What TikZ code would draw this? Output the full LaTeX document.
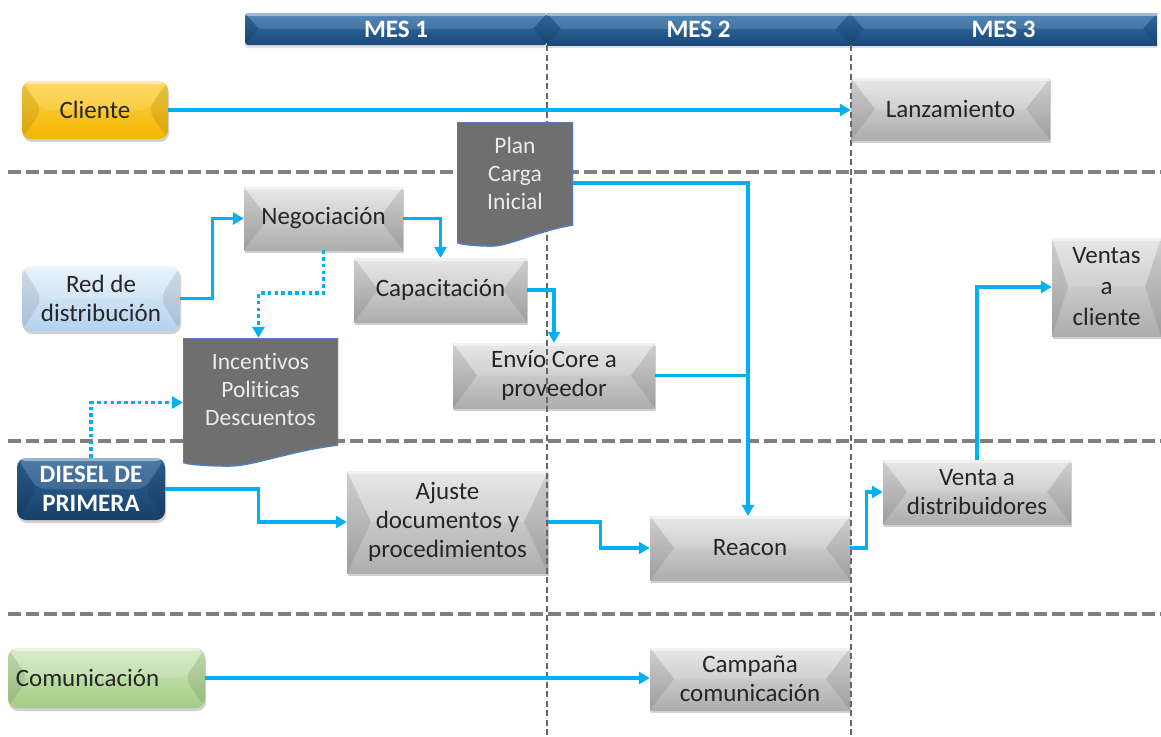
\documentclass[tikz,border=0pt]{standalone}
\usepackage{fontspec}
\setmainfont{Carlito}[Ligatures=NoCommon]
\usetikzlibrary{arrows.meta,shadows,calc}

\definecolor{flow}{HTML}{00B0F0}
\definecolor{lanegray}{HTML}{7F7F7F}
\definecolor{boxtop}{HTML}{E4E4E4}
\definecolor{boxbot}{HTML}{ADADAD}
\definecolor{docfill}{HTML}{6F6F6F}
\definecolor{docedge}{HTML}{4F7FB5}
\definecolor{hdrtop}{HTML}{3572AE}
\definecolor{hdrbot}{HTML}{1B4A78}
\definecolor{goldtop}{HTML}{FFD54F}
\definecolor{goldbot}{HTML}{F2B500}
\definecolor{skytop}{HTML}{E6F1FB}
\definecolor{skybot}{HTML}{B4D2EE}
\definecolor{navytop}{HTML}{2F6499}
\definecolor{navybot}{HTML}{17406A}
\definecolor{leaftop}{HTML}{D3E9C2}
\definecolor{leafbot}{HTML}{A3CE85}
\definecolor{ink}{HTML}{262626}

\newcommand\boxfont{\fontsize{25}{29}\selectfont}
\newcommand\docfont{\fontsize{23.5}{28}\selectfont}
\newcommand\hdrfont{\fontsize{25}{28}\selectfont\bfseries}

\tikzset{
  % bevelled faces painted inside a box: side triangles meet at mid height
  bevel/.style={path picture={
    \coordinate (bNW) at (path picture bounding box.north west);
    \coordinate (bNE) at (path picture bounding box.north east);
    \coordinate (bSW) at (path picture bounding box.south west);
    \coordinate (bSE) at (path picture bounding box.south east);
    \coordinate (bL) at ([xshift=#1]path picture bounding box.west);
    \coordinate (bR) at ([xshift=-#1]path picture bounding box.east);
    \fill[white,opacity=.14] (bNW) -- (bNE) -- (bR) -- (bL) -- cycle;
    \fill[black,opacity=.09] (bNW) -- (bL) -- (bSW) -- cycle;
    \fill[black,opacity=.09] (bNE) -- (bR) -- (bSE) -- cycle;
    \fill[white,opacity=.45] (bNW) -- (bNE) -- ([yshift=-3pt]bNE) -- ([yshift=-3pt]bNW) -- cycle;
  }},
  wh/.style 2 args={minimum width=#1pt, minimum height=#2pt},
  softshadow/.style={drop shadow={shadow xshift=1pt, shadow yshift=-3pt, opacity=.3, fill=black!60}},
  graybox/.style={rectangle, top color=boxtop, bottom color=boxbot, bevel=24pt,
    softshadow, text=ink, align=center, font=\boxfont, inner sep=0pt},
  rbox/.style={rectangle, rounded corners=9pt, bevel=20pt, softshadow,
    text=ink, align=center, font=\boxfont, inner sep=0pt},
  mesbar/.style={rectangle, top color=hdrtop, bottom color=hdrbot, bevel=14pt,
    minimum height=32pt, text=white, font=\hdrfont, inner sep=0pt,
    drop shadow={shadow xshift=0pt, shadow yshift=-3pt, opacity=.25}},
  % document sheet with a wavy lower edge; #1 = rise of the right end
  docbox/.style={rectangle, text=white!92!black, align=center, font=\docfont, inner sep=0pt,
    path picture={
      \coordinate (dNW) at (path picture bounding box.north west);
      \coordinate (dNE) at (path picture bounding box.north east);
      \coordinate (dSW) at (path picture bounding box.south west);
      \coordinate (dSE) at (path picture bounding box.south east);
      \fill[docfill, draw=docedge, line width=1.6pt]
        (dNW) -- (dNE) -- ([yshift=#1]dSE)
        .. controls ($(dSW)!.7!(dSE)+(0,.75*#1)$) and ($(dSW)!.45!(dSE)+(0,1pt)$) .. ($(dSW)!.3!(dSE)+(0,1pt)$)
        .. controls ($(dSW)!.15!(dSE)+(0,1pt)$) and ([yshift=3pt]dSW) .. ([yshift=5pt]dSW) -- cycle;
    }},
  flowline/.style={draw=flow, line width=3.2pt, -{Triangle[length=11pt,width=12pt]}},
  flowplain/.style={draw=flow, line width=3.2pt},
  flowdots/.style={draw=flow, line width=3.6pt, dash pattern=on 3.6pt off 3.2pt,
    -{Triangle[length=11pt,width=12pt]}},
  lanesep/.style={draw=lanegray, line width=3.6pt, dash pattern=on 13pt off 5pt},
  monthsep/.style={draw=lanegray!80!black, line width=1.4pt, dash pattern=on 6pt off 3.5pt},
}

\begin{document}
\begin{tikzpicture}[x=1pt,y=-1pt]
\useasboundingbox[fill=white] (0,0) rectangle (1161,736);

% horizontal lane separators
\foreach \yy in {172,441,614} \draw[lanesep] (8,\yy) -- (1161,\yy);

% month header
\node[mesbar, minimum width=302pt, rounded corners=3pt] (mes1) at (396,29) {MES 1};
\node[mesbar, minimum width=303pt] (mes2) at (698.5,29) {MES 2};
\node[mesbar, minimum width=307pt] (mes3) at (1003.5,29) {MES 3};

% lane titles
\node[rbox, top color=goldtop, bottom color=goldbot, wh={146}{58}] (cli) at (95,110) {Cliente};
\node[rbox, top color=skytop, bottom color=skybot, wh={158}{65}] (red) at (101,298.5) {Red de\\distribución};
\node[rbox, top color=navytop, bottom color=navybot, text=white, font=\boxfont\bfseries, wh={148}{62}] (die) at (91,489) {DIESEL DE\\PRIMERA};
\node[rbox, top color=leaftop, bottom color=leafbot, wh={197}{60}] (com) at (106.5,678) {Comunicación\hspace*{38pt}};

% activities
\node[graybox, wh={199}{62}] (lan) at (950.5,109) {Lanzamiento};
\node[graybox, wh={159}{63}] (neg) at (323.5,218.5) {Negociación};
\node[graybox, wh={173}{64}] (cap) at (440.5,290) {Capacitación};
\node[graybox, wh={202}{65}] (env) at (554,375.5) {Envío Core a\\proveedor};
\node[graybox, wh={201}{102}] (aju) at (447.5,522) {Ajuste\\documentos y\\procedimientos};
\node[graybox, wh={200}{64}] (rea) at (750,548) {Reacon};
\node[graybox, wh={188}{64}] (ven) at (977,492) {Venta a\\distribuidores};
\node[graybox, wh={109}{98}, bevel=16pt, font=\fontsize{25}{31}\selectfont] (vcl) at (1106.5,287) {Ventas\\a\\cliente};
\node[graybox, wh={200}{62}] (cam) at (750,679) {Campaña\\comunicación};

% month boundaries
\foreach \xx in {547,851} \draw[monthsep] (\xx,45) -- (\xx,736);

% documents
\node[docbox=22pt, wh={116}{125}, text depth=23pt] (plan) at (515,184.5) {Plan\\Carga\\Inicial};
\node[docbox=22pt, wh={155}{129}, text depth=27pt] (inc) at (260.5,402.5) {Incentivos\\Politicas\\Descuentos};

% connectors
\coordinate (reatop) at ([xshift=-2pt]rea.north);
\coordinate (inctop) at ([xshift=-2pt]inc.north);
\draw[flowline] (cli.east) -- (cli.east -| lan.west);
\draw[flowline] (red.east) -- ++(32,0) |- (neg.west);
\draw[flowline] (neg.east) -| (cap.north);
\draw[flowline] (cap.east) -| (env.north);
\draw[flowline] ([yshift=1.5pt]plan.east) -| (reatop);
\draw[flowplain] (env.east) -- (env.east -| reatop);
\draw[flowdots] (neg.south) -- ++(0,43) -| (inctop);
\draw[flowdots] (die.north) |- (inc.west);
\draw[flowline] (die.east) -- ++(93,0) |- (aju.west);
\draw[flowline] (aju.east) -- ++(52,0) |- (rea.west);
\draw[flowline] (rea.east) -- ++(16,0) |- (ven.west);
\draw[flowline] (ven.north) |- (vcl.west);
\draw[flowline] (com.east) -- (com.east -| cam.west);
\end{tikzpicture}
\end{document}
